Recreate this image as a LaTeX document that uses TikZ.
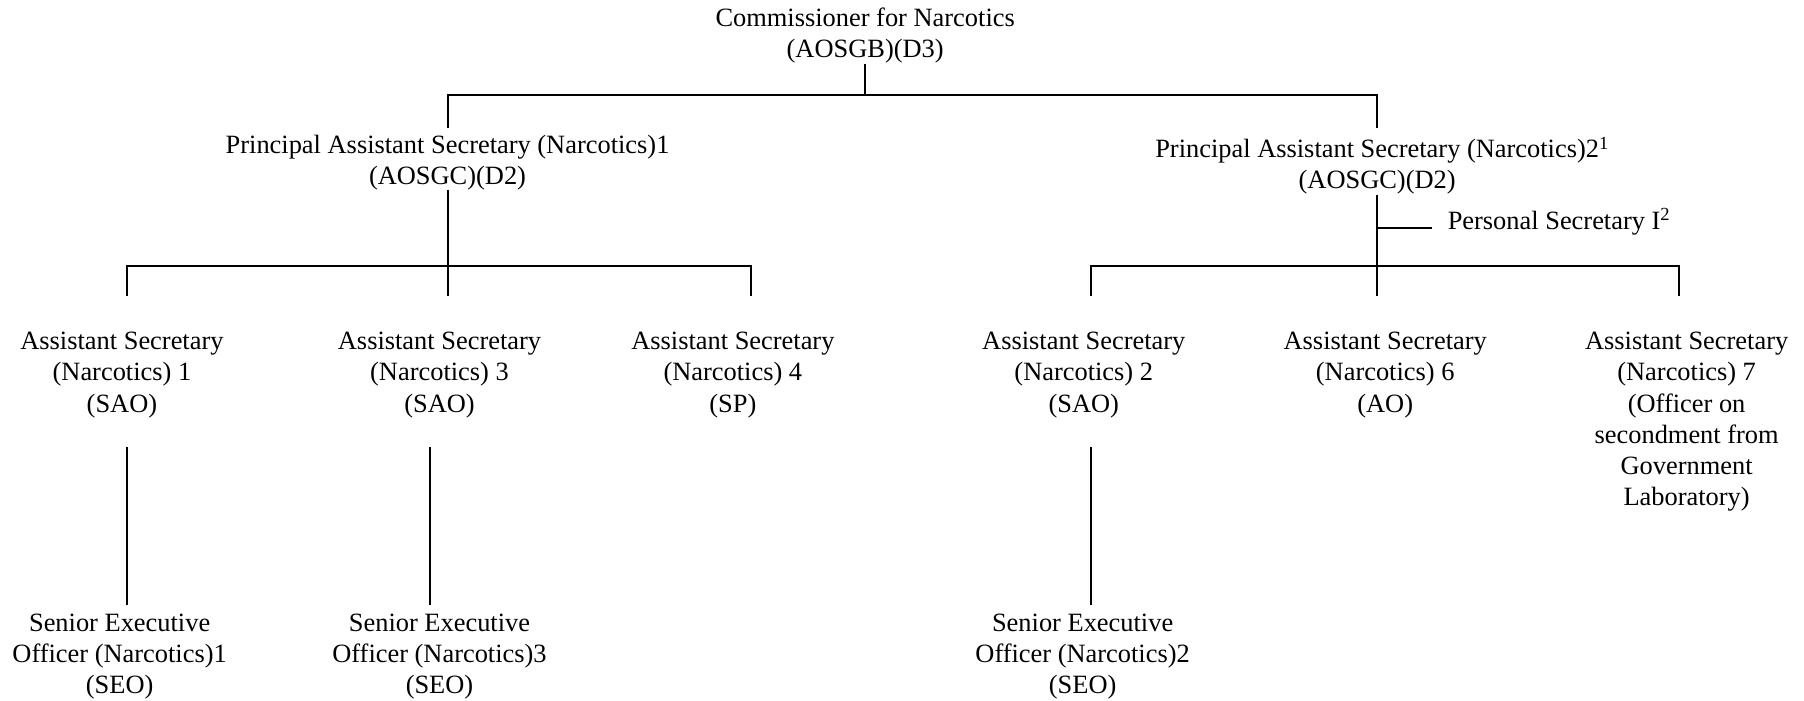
\documentclass[tikz,border=0pt]{standalone}
\usepackage{fontspec}
\setmainfont{Liberation Serif}
\usetikzlibrary{calc}
\tikzset{
  post/.style={align=center, inner sep=0pt, font=\fontsize{13.2}{15.5}\selectfont},
  link/.style={line width=1pt}
}

\begin{document}
\begin{tikzpicture}[x=0.575pt,y=-0.575pt]
  \useasboundingbox (0,0) rectangle (1568,609);
  % commissioner and the two principal assistant secretaries
  \node[post] (cn) at (752,31) {Commissioner for Narcotics\\(AOSGB)(D3)};
  \node[post] (pas1) at (389,141) {Principal Assistant Secretary (Narcotics)1\\(AOSGC)(D2)};
  \node[post] (pas2) at (1197,144) {Principal Assistant Secretary (Narcotics)2\rlap{\textsuperscript{1}}\\(AOSGC)(D2)};
  \node[post,anchor=west] (ps) at (1258,193) {Personal Secretary I\rlap{\textsuperscript{2}}};
  \coordinate (top) at (752,83);
  \draw[link] (cn) -- (top);
  \draw[link] (pas1 |- 0,111) -- (pas1 |- top) -- (pas2 |- top) -- (pas2 |- 0,111);
  % left branch
  \coordinate (d1) at (110,257);
  \coordinate (d3) at (389,257);
  \coordinate (d4) at (653,257);
  \draw[link] (pas1) -- (d3);
  \draw[link] (d1) -- (d1 |- 0,231) -- (d4 |- 0,231) -- (d4);
  % right branch
  \coordinate (d2) at (948,257);
  \coordinate (d6) at (1197,257);
  \coordinate (d7) at (1459,257);
  \coordinate (psj) at (1197,198);
  \draw[link] (pas2) -- (d6);
  \draw[link] (psj) -- ($(ps.west |- psj)+(-13,0)$);
  \draw[link] (d2) -- (d2 |- 0,231) -- (d7 |- 0,231) -- (d7);
  % assistant secretaries
  \node[post] (as1) at (106,326) {Assistant Secretary\\(Narcotics) 1\\(SAO)};
  \node[post] (as3) at (382,326) {Assistant Secretary\\(Narcotics) 3\\(SAO)};
  \node[post] (as4) at (637,326) {Assistant Secretary\\(Narcotics) 4\\(SP)};
  \node[post] (as2) at (942,326) {Assistant Secretary\\(Narcotics) 2\\(SAO)};
  \node[post] (as6) at (1204,326) {Assistant Secretary\\(Narcotics) 6\\(AO)};
  \node[post,anchor=north] (as7) at (as6.north -| 1466,0) {Assistant Secretary\\(Narcotics) 7\\(Officer on\\secondment from\\Government\\Laboratory)};
  % senior executive officers
  \node[post] (seo1) at (104,571) {Senior Executive\\Officer (Narcotics)1\\(SEO)};
  \node[post] (seo3) at (382,571) {Senior Executive\\Officer (Narcotics)3\\(SEO)};
  \node[post] (seo2) at (941,571) {Senior Executive\\Officer (Narcotics)2\\(SEO)};
  \foreach \a/\b/\x in {as1/seo1/110, as3/seo3/374, as2/seo2/948}
    \draw[link] ($(\a.south -| \x,0)+(0,25)$) -- ($(\b.north -| \x,0)+(0,-8)$);
\end{tikzpicture}
\end{document}
